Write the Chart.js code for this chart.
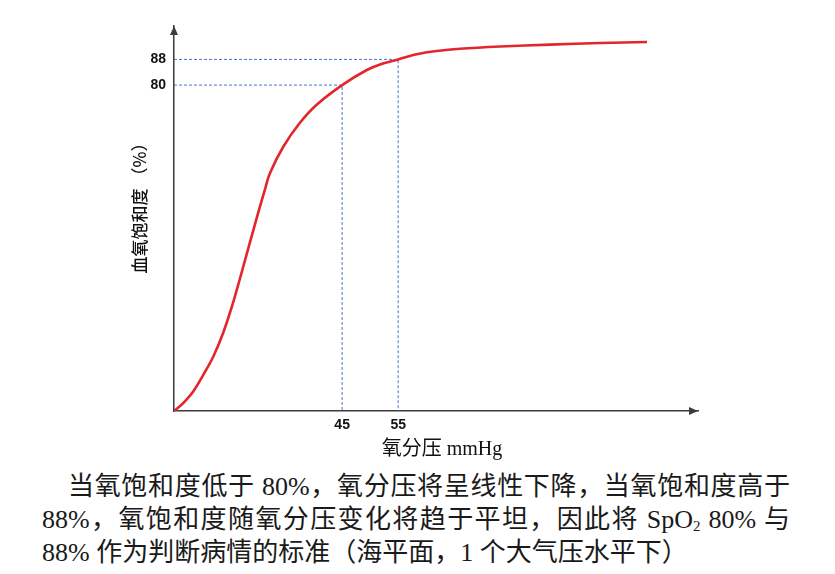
<!DOCTYPE html>
<html>
<head>
<meta charset="utf-8">
<script src="https://cdn.jsdelivr.net/npm/chart.js@4.4.1/dist/chart.umd.min.js"></script>
<style>
  html, body { margin: 0; padding: 0; background: #fff; }
  #wrap { position: absolute; left: 0; top: 0; width: 835px; height: 461px; }
  #caption {
    position: absolute; left: 42px; top: 470px; width: 748px;
    font-family: "Liberation Serif", "Noto Sans CJK SC", serif;
    font-size: 26px; line-height: 33px; color: #1a1a1a;
  }
  #caption .ln { white-space: nowrap; }
  #caption .j { text-align: justify; text-align-last: justify; }
  #caption .first { padding-left: 26px; }
  sub { font-size: 15px; vertical-align: -3px; line-height: 0; }
</style>
</head>
<body>
<div id="wrap"><canvas id="c"></canvas></div>
<div id="caption">
  <div class="ln j first">当氧饱和度低于 80%，氧分压将呈线性下降，当氧饱和度高于</div>
  <div class="ln j">88%，氧饱和度随氧分压变化将趋于平坦，因此将 SpO<sub>2</sub> 80% 与</div>
  <div class="ln">88% 作为判断病情的标准（海平面，1 个大气压水平下）</div>
</div>
<script>
// ---- data ----
const pressure   = [15.0, 16.6, 18.4, 20.2, 22.0, 23.75, 25.5, 26.7, 28.5, 30.0, 31.2, 32.1, 34.5, 37.4, 40.4, 45.0, 49.4, 51.9, 55.0, 58.3, 61.9, 66.0, 73.2, 82.1, 91.0, 99.4];
const saturation = [-21.5, -19.1, -15.5, -10.3, -4.6, 2.7, 12.0, 19.3, 30.7, 40.1, 47.3, 52.5, 60.8, 68.1, 73.8, 80.0, 84.7, 86.5, 88.0, 89.6, 90.6, 91.3, 92.0, 92.6, 93.1, 93.4];
const markX = [45, 55];          // x tick labels
const markY = [80, 88];          // y tick labels
const xTitle = '氧分压 mmHg';
const yTitle = '血氧饱和度 （%）';
const xMin = 15, xMax = 108.5, yMin = -21.5, yMax = 98.4;

const curve = pressure.map((x, i) => ({ x: x, y: saturation[i] }));
const guides = markX.map((mx, i) => [
  { x: xMin, y: markY[i] }, { x: mx, y: markY[i] }, { x: mx, y: yMin }
]);

const axisColor = '#3c3c3c';
const guideColor = '#4a74c8';

const decorPlugin = {
  id: 'decor',
  afterDraw(chart) {
    const ctx = chart.ctx, a = chart.chartArea;
    ctx.save();
    ctx.fillStyle = axisColor;
    // y arrow
    ctx.beginPath();
    ctx.moveTo(a.left, a.top);
    ctx.lineTo(a.left - 4, a.top + 9);
    ctx.lineTo(a.left + 4, a.top + 9);
    ctx.closePath(); ctx.fill();
    // x arrow
    ctx.beginPath();
    ctx.moveTo(a.right, a.bottom);
    ctx.lineTo(a.right - 9, a.bottom - 4);
    ctx.lineTo(a.right - 9, a.bottom + 4);
    ctx.closePath(); ctx.fill();
    // axis titles
    ctx.fillStyle = '#111';
    ctx.textAlign = 'center';
    ctx.textBaseline = 'middle';
    ctx.font = '20px "Liberation Serif", "Noto Sans CJK SC", serif';
    ctx.fillText(xTitle, 442, 450);
    ctx.translate(140, 204);
    ctx.rotate(-Math.PI / 2);
    ctx.font = '500 17px "Noto Sans CJK SC", sans-serif';
    ctx.fillText(yTitle, 0, 0);
    ctx.restore();
  }
};

new Chart(document.getElementById('c'), {
  type: 'line',
  data: {
    datasets: [
      { data: curve, borderColor: '#e3262b', borderWidth: 2.6, pointRadius: 0,
        tension: 0.35, order: 0 },
      ...guides.map(g => ({ data: g, borderColor: guideColor, borderWidth: 1,
        borderDash: [3, 2], pointRadius: 0, tension: 0, order: 1 }))
    ]
  },
  options: {
    responsive: true, maintainAspectRatio: false, animation: false,
    layout: { padding: { left: 0, top: 26, right: 137, bottom: 0 } },
    plugins: { legend: { display: false }, tooltip: { enabled: false } },
    scales: {
      x: {
        type: 'linear', min: xMin, max: xMax,
        grid: { display: false, drawTicks: false },
        border: { display: true, color: axisColor, width: 1.5 },
        afterBuildTicks: s => { s.ticks = markX.map(v => ({ value: v })); },
        afterFit: s => { s.height = 50; },
        ticks: { padding: 6, color: '#111', autoSkip: false, maxRotation: 0,
          font: { family: 'Liberation Sans', size: 14, weight: 'bold' } }
      },
      y: {
        type: 'linear', min: yMin, max: yMax,
        grid: { display: false, drawTicks: false },
        border: { display: true, color: axisColor, width: 1.5 },
        afterBuildTicks: s => { s.ticks = markY.map(v => ({ value: v })); },
        afterFit: s => { s.width = 174; },
        ticks: { padding: 8, color: '#111', autoSkip: false,
          font: { family: 'Liberation Sans', size: 14, weight: 'bold' } }
      }
    }
  },
  plugins: [decorPlugin]
});
</script>
</body>
</html>
